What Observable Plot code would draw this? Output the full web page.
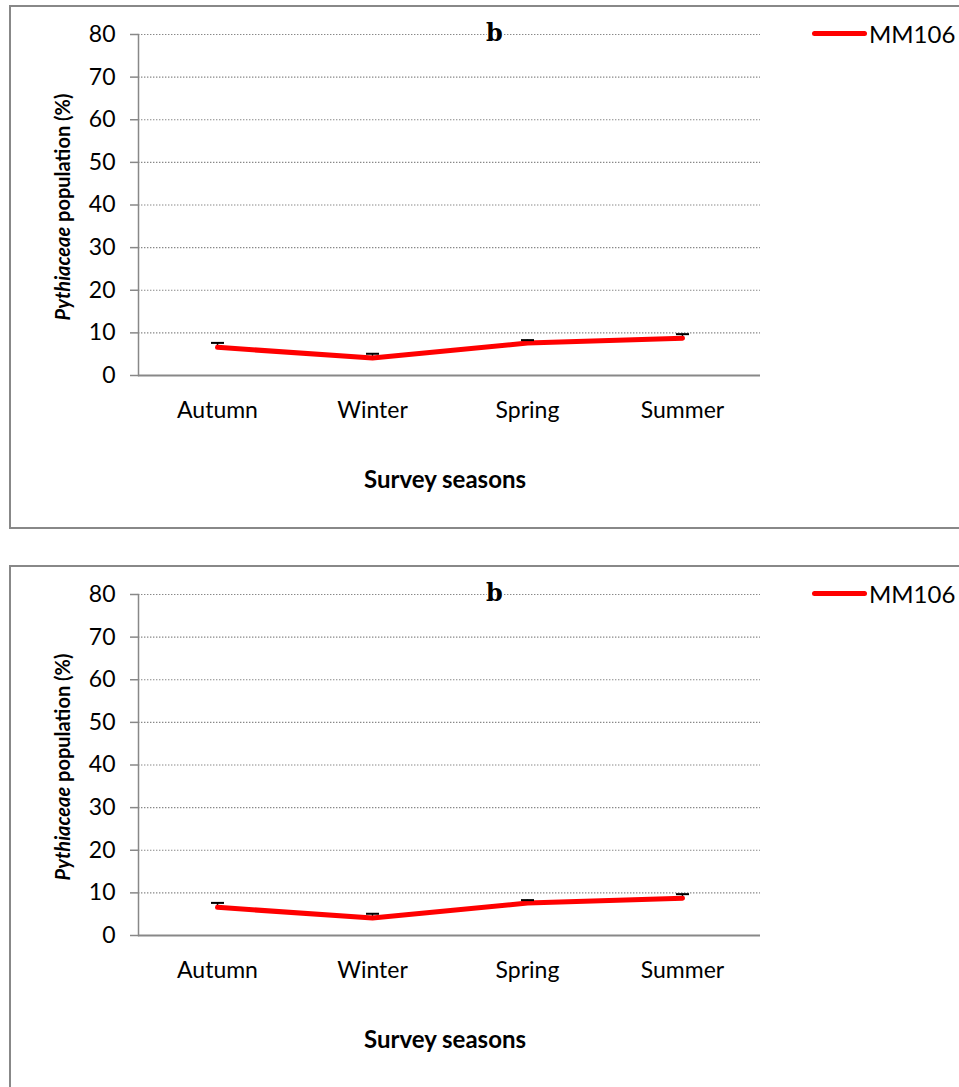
<!DOCTYPE html>
<html>
<head>
<meta charset="utf-8">
<script src="https://cdn.jsdelivr.net/npm/d3@7"></script>
<script src="https://cdn.jsdelivr.net/npm/@observablehq/plot@0.6"></script>
<style>
  html, body { margin: 0; padding: 0; background: #fff; overflow: hidden; }
  body { width: 959px; height: 1087px; position: relative; font-family: Lato, "Open Sans", sans-serif; }
  .chart { position: absolute; left: 0; width: 959px; height: 540px; }
  .border { position: absolute; left: 9px; top: 5px; width: 980px; height: 524px; border: 2px solid #888; box-sizing: border-box; }
  .chart svg { position: absolute; left: 0; top: 0; }
  .legend { position: absolute; left: 812px; top: 20px; height: 26px; display: flex; align-items: center; }
  .legend .swatch { width: 55px; height: 5px; background: #ff0000; border-radius: 3px; }
  .legend .name { font-size: 24px; margin-left: 2px; color: #000; }
</style>
</head>
<body>
<script>
// ---- data ----
const seasons = ["Autumn", "Winter", "Spring", "Summer"];
const means = [6.6, 4.1, 7.6, 8.75];
const upperBars = [7.65, 5.1, 8.3, 9.7];
const yTicks = [0, 10, 20, 30, 40, 50, 60, 70, 80];
const seriesName = "MM106";
const panelLabel = ["b"];
const panelLabelAt = ["Spring"];
const xTitle = "Survey seasons";
const yTitleItalic = "Pythiaceae";
const yTitleRest = " population (%)";
const panelTops = [0, 560];

const rows = seasons.map((s, i) => ({season: s, mean: means[i], upper: upperBars[i]}));
const annot = panelLabel.map((t, i) => ({label: t, season: panelLabelAt[i], y: yTicks[yTicks.length - 1]}));

const capSymbol = {
  draw(ctx) { ctx.moveTo(-6.5, 0); ctx.lineTo(6.5, 0); }
};

function makeChart(top) {
  const wrap = document.createElement("div");
  wrap.className = "chart";
  wrap.style.top = top + "px";
  const border = document.createElement("div");
  border.className = "border";
  wrap.appendChild(border);

  const svg = Plot.plot({
    width: 959,
    height: 540,
    marginLeft: 138,
    marginRight: 199,
    marginTop: 34,
    marginBottom: 165,
    x: {type: "point", domain: seasons, padding: 0.5},
    y: {domain: [0, 80]},
    style: {fontFamily: "Lato, 'Open Sans', sans-serif", fontSize: "23px", color: "#000", background: "transparent", overflow: "visible"},
    marks: [
      Plot.gridY(yTicks.slice(1), {stroke: "#888", strokeOpacity: 1, strokeWidth: 1.2, strokeDasharray: "1.4,1.6"}),
      Plot.axisY(yTicks, {tickSize: 8, tickPadding: 15, stroke: "#888", strokeWidth: 1.5, fill: "#000", label: null, fontSize: 23}),
      Plot.axisX({tickSize: 0, tickPadding: 26, label: null, fill: "#000", fontSize: 23}),
      Plot.frame({anchor: "left", stroke: "#888", strokeWidth: 1.5}),
      Plot.ruleY([0], {stroke: "#888", strokeWidth: 2}),
      Plot.ruleX(rows, {x: "season", y1: "mean", y2: "upper", stroke: "#000", strokeWidth: 1.5}),
      Plot.line(rows, {x: "season", y: "mean", stroke: "#ff0000", strokeWidth: 5, strokeLinecap: "round", strokeLinejoin: "round"}),
      Plot.dot(rows, {x: "season", y: "upper", symbol: capSymbol, r: 6, stroke: "#000", strokeWidth: 2, fill: "none"}),
      Plot.text(annot, {x: "season", y: "y", text: "label", dx: -33, dy: -1, fontFamily: "'DejaVu Serif', serif", fontWeight: "bold", fontSize: 24, fill: "#000", stroke: "#fff", strokeWidth: 3})
    ]
  });

  const s = d3.select(svg);
  // y title
  const yt = s.append("text")
    .attr("transform", "translate(70,207) rotate(-90)")
    .attr("text-anchor", "middle")
    .attr("font-family", "Lato, 'Open Sans', sans-serif")
    .attr("font-size", 20)
    .attr("font-weight", "bold")
    .attr("fill", "#000");
  yt.append("tspan").attr("font-style", "italic").text(yTitleItalic);
  yt.append("tspan").text(yTitleRest);
  // x title
  s.append("text")
    .attr("x", 445).attr("y", 488)
    .attr("text-anchor", "middle")
    .attr("font-family", "Lato, 'Open Sans', sans-serif")
    .attr("font-size", 24)
    .attr("font-weight", "bold")
    .attr("fill", "#000")
    .text(xTitle);

  wrap.appendChild(svg);

  const legend = document.createElement("div");
  legend.className = "legend";
  legend.innerHTML = `<div class="swatch"></div><div class="name"></div>`;
  legend.querySelector(".name").textContent = seriesName;
  wrap.appendChild(legend);

  document.body.appendChild(wrap);
}

panelTops.forEach(makeChart);
</script>
</body>
</html>
